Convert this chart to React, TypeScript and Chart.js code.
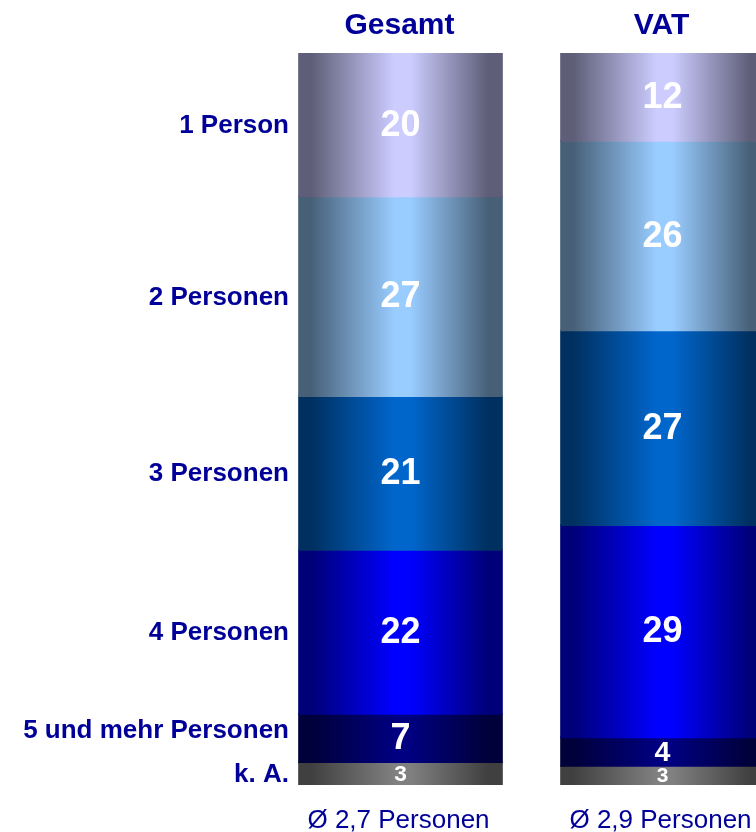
import React, { useEffect, useRef } from 'react';
import { Chart, registerables } from 'chart.js';

Chart.register(...registerables);

const groups = ['Gesamt', 'VAT'];
const averages = ['Ø 2,7 Personen', 'Ø 2,9 Personen'];
const categories = ['1 Person', '2 Personen', '3 Personen', '4 Personen', '5 und mehr Personen', 'k. A.'];
const gesamtValues = [19.6, 27.3, 21, 22.4, 6.6, 3.1];
const vatValues = [12, 25.9, 26.6, 29, 3.9, 2.6];
const lightColors = ['#CCCCFF', '#99CCFF', '#0066CC', '#0000FF', '#000080', '#808080'];
const darkColors = ['#5E5E78', '#476078', '#003060', '#000078', '#00003A', '#404040'];

const TEXT_BLUE = '#000099';
const FONT = '"Liberation Sans", Arial, sans-serif';
const BAR_PCT = 0.775;

const labelsPlugin = {
  id: 'customLabels',
  afterDatasetsDraw(chart: any) {
    const ctx = chart.ctx;
    const xs = chart.scales.x;
    ctx.save();
    // value labels
    chart.data.datasets.forEach((ds: any, di: number) => {
      const meta = chart.getDatasetMeta(di);
      meta.data.forEach((el: any, i: number) => {
        const p = el.getProps(['x', 'y', 'base'], true);
        const h = Math.abs(p.base - p.y);
        const cy = (p.base + p.y) / 2;
        const size = Math.min(36, Math.max(21, h));
        ctx.font = `bold ${size}px ${FONT}`;
        ctx.fillStyle = '#FFFFFF';
        ctx.textAlign = 'center';
        ctx.textBaseline = 'middle';
        ctx.fillText(String(Math.round(ds.data[i])), p.x, cy + 1);
      });
    });
    // left category labels at first bar's segments
    const centers: number[] = chart.data.datasets.map((_: any, di: number) => {
      const el = chart.getDatasetMeta(di).data[0];
      const p = el.getProps(['y', 'base'], true);
      return (p.base + p.y) / 2;
    });
    const firstEl = chart.getDatasetMeta(0).data[0];
    const leftX = firstEl.getProps(['x', 'width'], true);
    const rightEdge = leftX.x - leftX.width / 2 - 10;
    let prev = Infinity;
    const ys: number[] = [];
    for (let k = centers.length - 1; k >= 0; k--) {
      const y = Math.min(centers[k], prev - 44);
      ys[k] = y;
      prev = y;
    }
    ctx.font = `bold 26px ${FONT}`;
    ctx.fillStyle = TEXT_BLUE;
    ctx.textAlign = 'right';
    ctx.textBaseline = 'middle';
    categories.forEach((c, k) => ctx.fillText(c, rightEdge, ys[k] + 1));
    // group titles and averages
    groups.forEach((g, i) => {
      const x = xs.getPixelForValue(i);
      ctx.font = `bold 30px ${FONT}`;
      ctx.fillStyle = TEXT_BLUE;
      ctx.textAlign = 'center';
      ctx.textBaseline = 'alphabetic';
      ctx.fillText(g, x - 1, 34);
      ctx.font = `26px ${FONT}`;
      ctx.fillText(averages[i], x - 2, 828);
    });
    ctx.restore();
  },
};

export default function App() {
  const ref = useRef<HTMLCanvasElement>(null);

  useEffect(() => {
    document.body.style.margin = '0';
    const canvas = ref.current;
    if (!canvas) return;
    const datasets = categories.map((c, k) => ({
      label: c,
      data: [gesamtValues[k], vatValues[k]],
      borderWidth: 0,
      inflateAmount: 0.8,
      barPercentage: BAR_PCT,
      categoryPercentage: 1,
      backgroundColor: (context: any) => {
        const chart = context.chart;
        const xs = chart.scales?.x;
        if (!chart.chartArea || !xs || context.dataIndex === undefined) return lightColors[k];
        const cx = xs.getPixelForValue(context.dataIndex);
        const half = ((xs.getPixelForValue(1) - xs.getPixelForValue(0)) * BAR_PCT) / 2;
        const g = chart.ctx.createLinearGradient(cx - half, 0, cx + half, 0);
        g.addColorStop(0, darkColors[k]);
        g.addColorStop(0.06, darkColors[k]);
        g.addColorStop(0.47, lightColors[k]);
        g.addColorStop(0.55, lightColors[k]);
        g.addColorStop(0.93, darkColors[k]);
        g.addColorStop(1, darkColors[k]);
        return g;
      },
    }));
    const chart = new Chart(canvas, {
      type: 'bar',
      data: { labels: groups, datasets },
      options: {
        responsive: false,
        animation: false,
        layout: { padding: { left: 269.5, right: 6.5, top: 53, bottom: 47 } },
        plugins: { legend: { display: false }, tooltip: { enabled: false } },
        scales: {
          x: { display: false, stacked: true },
          y: { display: false, stacked: true, min: 0, max: 100, reverse: true },
        },
      },
      plugins: [labelsPlugin],
    });
    return () => chart.destroy();
  }, []);

  return (
    <div style={{ position: 'absolute', left: 0, top: 0, width: 756, height: 832, overflow: 'hidden', background: '#fff' }}>
      <canvas ref={ref} width={800} height={832} style={{ display: 'block', width: 800, height: 832 }} />
    </div>
  );
}
